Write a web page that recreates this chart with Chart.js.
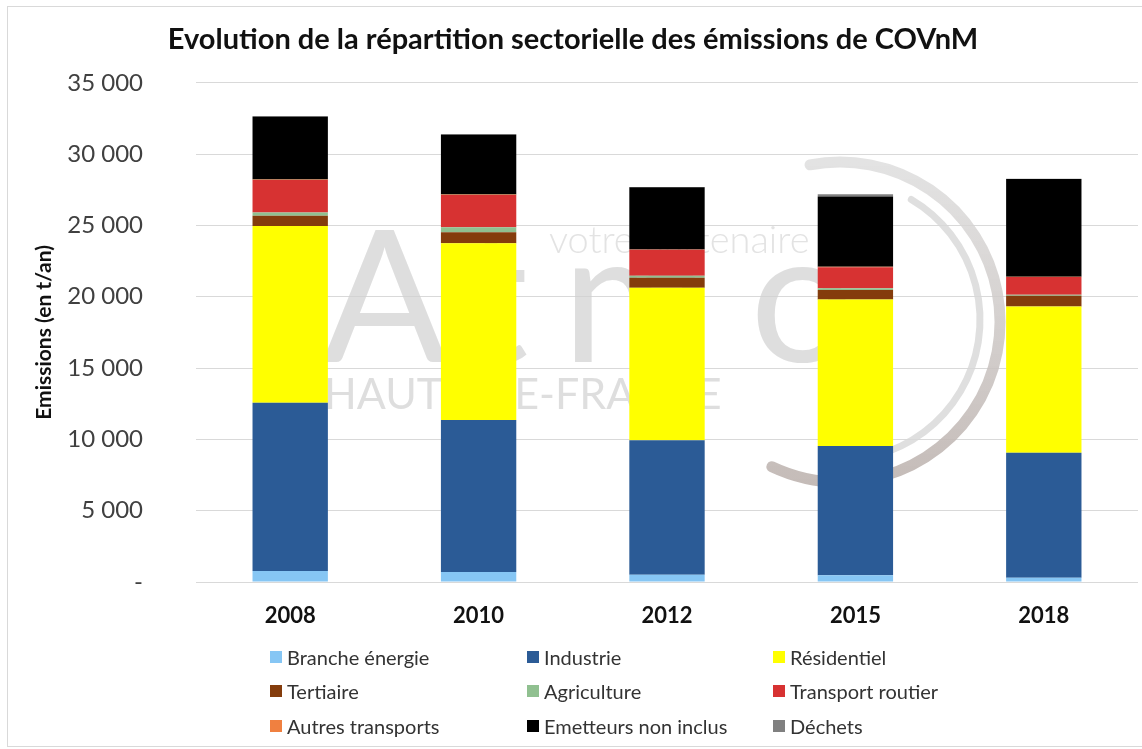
<!DOCTYPE html>
<html lang="fr">
<head>
<meta charset="UTF-8">
<title>Emissions de COVnM</title>
<script src="https://cdn.jsdelivr.net/npm/chart.js"></script>
<style>
  body { margin: 0; background: #fff; }
  #wrap { position: relative; width: 1142px; height: 749px; }
  #frame { position: absolute; left: 7px; top: 6px; width: 1150px; height: 741px;
           border: 1px solid #d9d9d9; box-sizing: border-box; pointer-events: none; }
  #legend { position: absolute; left: 0; top: 0; font-family: Lato, sans-serif;
            font-size: 20px; color: #333; }
  .item { position: absolute; display: flex; align-items: center; white-space: nowrap; line-height: 22px; }
  .box { width: 12px; height: 12px; margin-right: 5px; }
</style>
</head>
<body>
<div id="wrap">
  <canvas id="chart" width="1142" height="749"></canvas>
  <div id="frame"></div>
  <div id="legend"></div>
</div>
<script>
  const years = ["2008", "2010", "2012", "2015", "2018"];

  // t/an par secteur
  const brancheEnergie = [770, 700, 510, 470, 300];
  const industrie = [11790, 10650, 9420, 9070, 8760];
  const residentiel = [12400, 12400, 10700, 10260, 10260];
  const tertiaire = [710, 770, 700, 680, 750];
  const agriculture = [230, 350, 140, 120, 70];
  const transportRoutier = [2290, 2270, 1820, 1470, 1240];
  const autresTransports = [30, 30, 30, 30, 30];
  const emetteursNonInclus = [4410, 4210, 4350, 4920, 6840];
  const dechets = [20, 20, 20, 170, 20];

  const yTicks = [0, 5000, 10000, 15000, 20000, 25000, 30000, 35000];

  const series = [
    { label: "Branche énergie", data: brancheEnergie, color: "#86c6f4" },
    { label: "Industrie", data: industrie, color: "#2b5b96" },
    { label: "Résidentiel", data: residentiel, color: "#ffff00" },
    { label: "Tertiaire", data: tertiaire, color: "#843c0c" },
    { label: "Agriculture", data: agriculture, color: "#90c090" },
    { label: "Transport routier", data: transportRoutier, color: "#d73232" },
    { label: "Autres transports", data: autresTransports, color: "#f08040" },
    { label: "Emetteurs non inclus", data: emetteursNonInclus, color: "#000000" },
    { label: "Déchets", data: dechets, color: "#808080" }
  ];

  function fmt(v) {
    if (v === 0) return "-";
    return String(v).replace(/\B(?=(\d{3})+(?!\d))/g, " ");
  }

  // logo en filigrane derrière les barres
  const watermark = {
    id: "watermark",
    beforeDatasetsDraw(chart) {
      const c = chart.ctx;
      c.save();
      c.textBaseline = "alphabetic";
      c.fillStyle = "rgba(208,208,208,0.7)";
      c.font = "400 185px Lato";
      c.fillText("A", 322, 362);
      c.fillText("t", 462, 362);
      c.fillText("m", 562, 362);
      c.fillText("o", 750, 362);
      c.fillStyle = "rgba(215,215,215,0.7)";
      c.font = "300 38px Lato";
      c.fillText("votre partenaire", 549, 253);
      c.fillStyle = "rgba(208,208,208,0.7)";
      c.font = "400 43px Lato";
      c.fillText("HAUTS-DE-FRANCE", 324, 409);
      c.lineCap = "round";
      c.strokeStyle = "rgba(215,215,215,0.8)";
      c.lineWidth = 7;
      c.beginPath();
      c.arc(840, 320, 140, -Math.PI * 0.33, Math.PI * 0.42);
      c.stroke();
      const g = c.createLinearGradient(0, 160, 0, 485);
      g.addColorStop(0, "rgba(220,220,220,0.8)");
      g.addColorStop(1, "rgba(190,180,176,0.9)");
      c.strokeStyle = g;
      c.lineWidth = 11;
      c.beginPath();
      c.arc(840, 322, 160, -Math.PI * 0.56, Math.PI * 0.64);
      c.stroke();
      c.restore();
    }
  };

  new Chart(document.getElementById("chart"), {
    type: "bar",
    data: {
      labels: years,
      datasets: series.map((s) => ({
        label: s.label,
        data: s.data,
        backgroundColor: s.color,
        borderWidth: 0,
        categoryPercentage: 1,
        barPercentage: 0.4
      }))
    },
    options: {
      responsive: false,
      animation: false,
      layout: { padding: { left: 8, right: 4, top: 0, bottom: 107 } },
      plugins: {
        legend: { display: false },
        tooltip: { enabled: false },
        title: {
          display: true,
          text: "Evolution de la répartition sectorielle des émissions de COVnM",
          color: "#111",
          font: { family: "Lato", size: 29, weight: "bold" },
          padding: { top: 22, bottom: 26 }
        }
      },
      scales: {
        x: {
          stacked: true,
          grid: { display: false },
          border: { display: false },
          ticks: { color: "#111", padding: 13, font: { family: "Lato", size: 22, weight: "bold" } },
          afterFit: (s) => { s.height = 60; }
        },
        y: {
          stacked: true,
          min: 0,
          max: 35000,
          afterBuildTicks: (s) => { s.ticks = yTicks.map((v) => ({ value: v })); },
          grid: { color: "#d9d9d9", drawTicks: false },
          border: { display: false },
          ticks: {
            color: "#404040",
            padding: 53,
            font: { family: "Lato", size: 24 },
            callback: (v) => fmt(v)
          },
          title: {
            display: true,
            text: "Emissions (en t/an)",
            color: "#111",
            font: { family: "Lato", size: 21, weight: "bold" },
            padding: { top: 24, bottom: 0 }
          },
          afterFit: (s) => { s.width = 188; }
        }
      }
    },
    plugins: [watermark]
  });

  // légende sur trois colonnes
  const cols = [270, 527, 773];
  const rows = [657, 691, 726];
  const legend = document.getElementById("legend");
  series.forEach((s, i) => {
    const el = document.createElement("div");
    el.className = "item";
    el.style.left = cols[i % 3] + "px";
    el.style.top = (rows[Math.floor(i / 3)] - 11) + "px";
    el.innerHTML = '<span class="box" style="background:' + s.color + '"></span>' + s.label;
    legend.appendChild(el);
  });
</script>
</body>
</html>
